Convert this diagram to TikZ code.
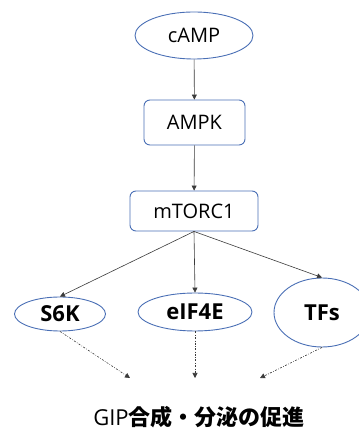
\documentclass[tikz,border=0pt]{standalone}
\usepackage{fontspec}
\setmainfont{Open Sans}
\newfontfamily\jpfont{Noto Sans CJK JP}
\usepackage{tikz}
\usetikzlibrary{shapes.geometric,arrows.meta}
\definecolor{edgeblue}{HTML}{4A6FB5}
\definecolor{linegray}{HTML}{3A3A3A}
\tikzstyle{mollipse} = [draw=edgeblue, line width=0.9pt, ellipse, inner sep=0pt,
    font=\fontsize{20}{22}\selectfont]
\tikzstyle{molbox} = [draw=edgeblue, line width=0.9pt, rectangle, rounded corners=6pt,
    inner sep=0pt, font=\fontsize{20}{22}\selectfont]
\tikzstyle{target} = [mollipse, font=\fontsize{22}{24}\selectfont\bfseries]
\tikzstyle{act} = [draw=linegray, line width=0.6pt, -{Triangle[width=5pt,length=5pt]}]
\tikzstyle{promote} = [act, dash pattern=on 2pt off 1.5pt on 0.6pt off 1.5pt]

\begin{document}
\begin{tikzpicture}[x=1pt, y=1pt]
                \useasboundingbox (0,0) rectangle (358,430);
                % upstream signalling
                \node [mollipse, minimum width=118pt, minimum height=47pt] (camp) at (194,394.5) {cAMP};
                \node [molbox, minimum width=101pt, minimum height=45pt] (ampk) at (194.5,307.5) {AMPK};
                \node [molbox, minimum width=128pt, minimum height=40pt] (mtorc) at (194,219) {mTORC1};
                % downstream targets
                \node [target, minimum width=91pt, minimum height=34pt] (s6k) at (60,116) {S6K};
                \node [target, minimum width=114pt, minimum height=38pt] (eif) at (195,118) {eIF4E};
                \node [target, minimum width=96pt, minimum height=69pt] (tfs) at (322,117.5) {TFs};
                \coordinate (g1) at (130,52);
                \coordinate (g2) at (195,52);
                \coordinate (g3) at (260,52);
                \node [font=\fontsize{22}{24}\selectfont] (gip) at (199,13) {GIP{\jpfont\bfseries 合成・分泌の促進}};
                \draw [act] (camp) -- (ampk);
                \draw [act] (ampk) -- (mtorc);
                \draw [act] (mtorc.south) -- (s6k.north);
                \draw [act] (mtorc.south) -- (eif.north);
                \draw [act] (mtorc.south) -- (tfs.north);
                \draw [promote] (s6k.south) -- (g1);
                \draw [promote] (eif.south) -- (g2);
                \draw [promote] (tfs.south) -- (g3);
            \end{tikzpicture}
\end{document}
